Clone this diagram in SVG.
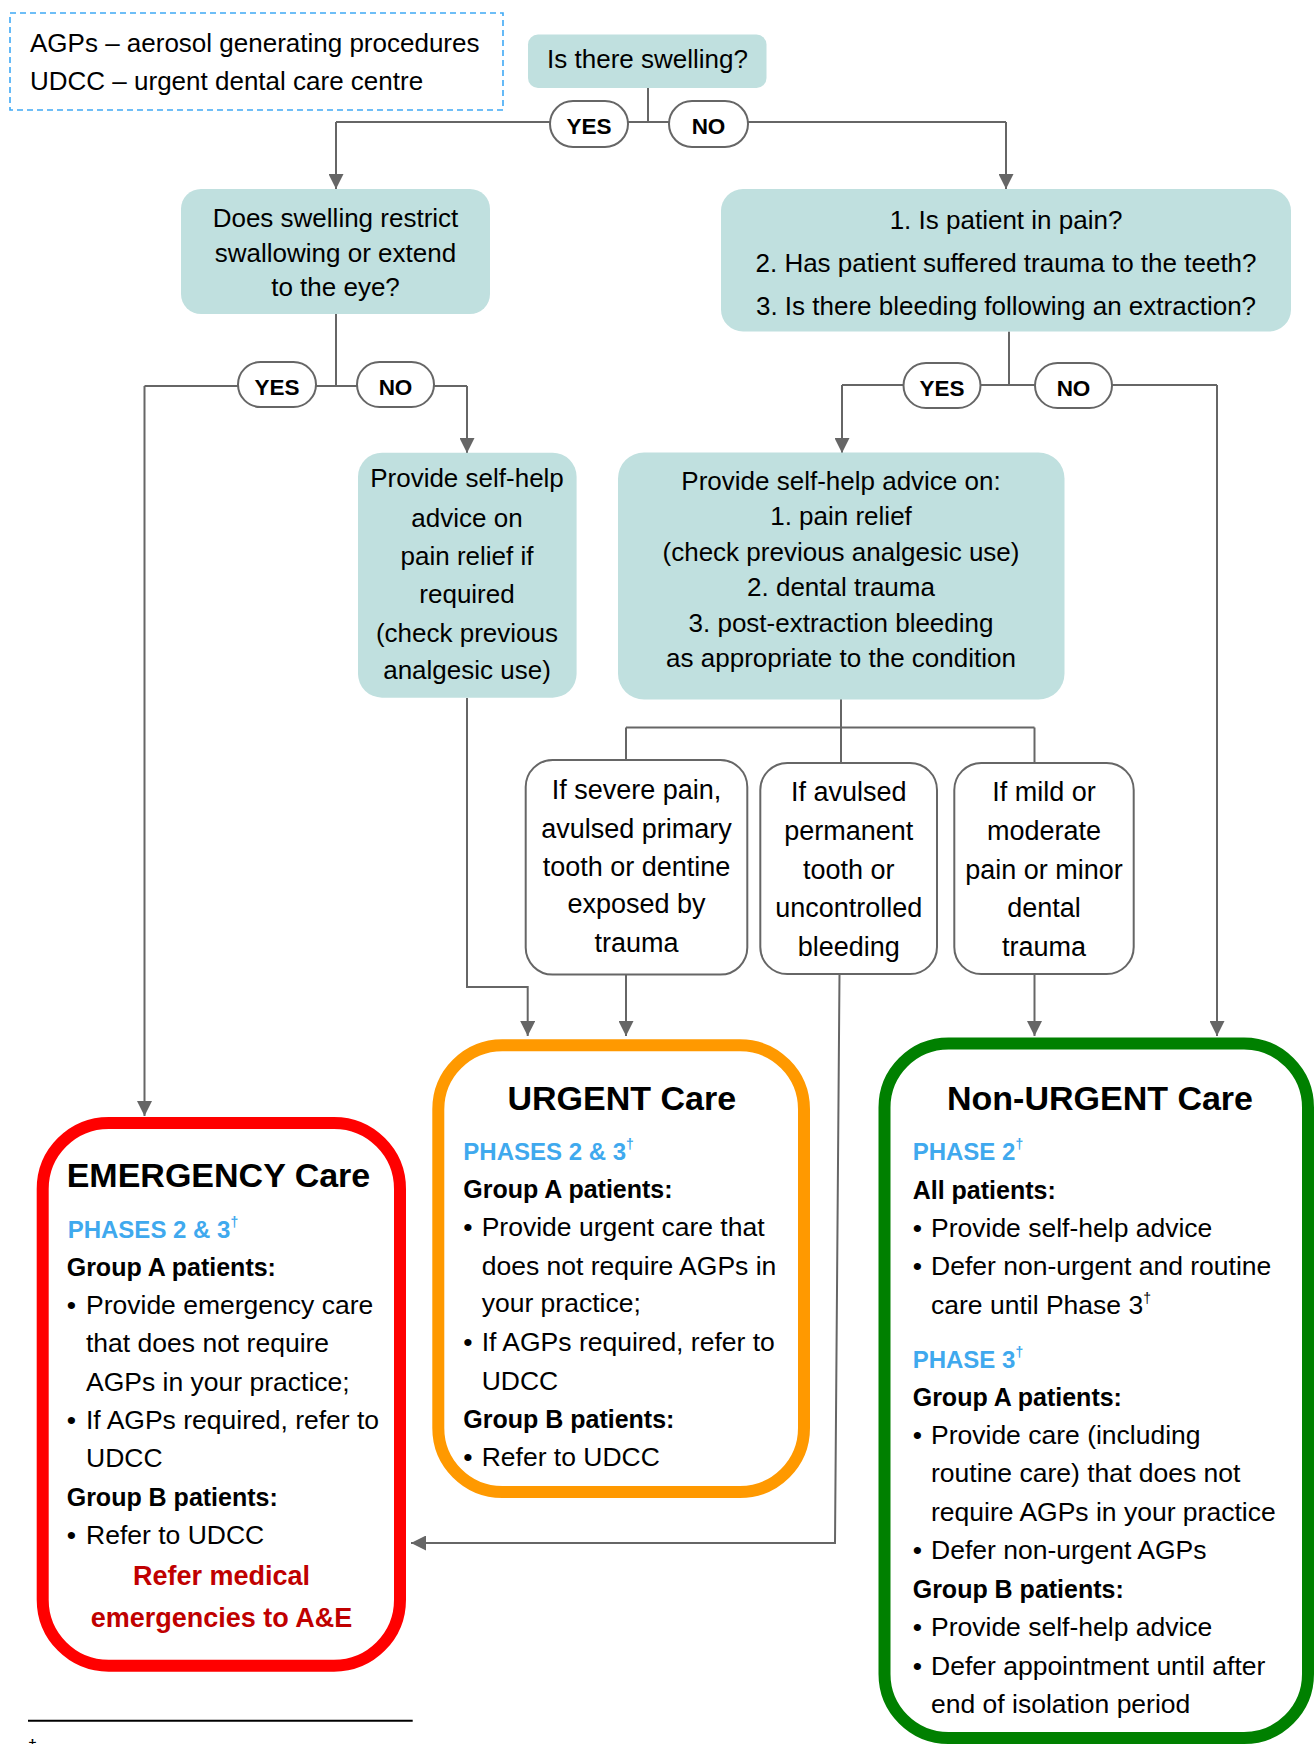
<svg xmlns="http://www.w3.org/2000/svg" width="1314" height="1744" viewBox="0 0 1314 1744">
<defs>
<style>
text{font-family:"Liberation Sans",Arial,sans-serif;fill:#000}
.q{font-size:26px;text-anchor:middle}
.w{font-size:27px;text-anchor:middle}
.c{font-size:26.5px}
.b{font-size:25px;font-weight:bold}
.h{font-size:34px;font-weight:bold}
.ph{font-size:24px;font-weight:bold;fill:#3FA9EE}
.sup{font-size:14px}
.pl{font-size:22.5px;font-weight:bold;text-anchor:middle}
.red{font-size:27px;font-weight:bold;fill:#C00000;text-anchor:middle}
.conn{stroke:#666;stroke-width:2;fill:none}
.arr{marker-end:url(#ah)}
.teal{fill:#C0E0DF}
.wbox{fill:#fff;stroke:#666;stroke-width:2}
.pill{fill:#fff;stroke:#666;stroke-width:2}
</style>
<marker id="ah" markerUnits="userSpaceOnUse" markerWidth="15" markerHeight="15" refX="15" refY="7.5" orient="auto">
<path d="M0,0 L15,7.5 L0,15 z" fill="#666"/>
</marker>
</defs>
<rect width="1314" height="1744" fill="#fff"/>

<g id="legend">
<rect x="10" y="13" width="493" height="97" fill="none" stroke="#3FA9F5" stroke-width="1.6" stroke-dasharray="6 4"/>
<text x="30" y="52" font-size="26">AGPs – aerosol generating procedures</text>
<text x="30" y="90" font-size="26">UDCC – urgent dental care centre</text>
</g>

<g id="connectors">
<path class="conn" d="M648,88 V122"/>
<path class="conn" d="M336,122 H1006"/>
<path class="conn arr" d="M336,122 V189"/>
<path class="conn arr" d="M1006,122 V189"/>
<path class="conn" d="M336,314 V386"/>
<path class="conn" d="M144.5,386 H467"/>
<path class="conn arr" d="M144.5,386 V1116"/>
<path class="conn arr" d="M467,386 V453"/>
<path class="conn" d="M1009,331.5 V385"/>
<path class="conn" d="M842,385 H1217"/>
<path class="conn arr" d="M842,385 V453"/>
<path class="conn arr" d="M1217,385 V1036"/>
<path class="conn" d="M841,699 V727.5"/>
<path class="conn" d="M626,727.5 H1034.5"/>
<path class="conn" d="M626,727.5 V760"/>
<path class="conn" d="M841,727.5 V763"/>
<path class="conn" d="M1034.5,727.5 V763"/>
<path class="conn arr" d="M626,974.6 V1036"/>
<path class="conn arr" d="M467,698 V987 H527.7 V1036"/>
<path class="conn arr" d="M1034.5,974 V1036"/>
<path class="conn arr" d="M839.5,974 L835,1543 H411"/>
</g>

<g id="q-swelling">
<rect class="teal" x="528" y="34.5" width="238.5" height="53.5" rx="10"/>
<text class="q" x="647.5" y="68">Is there swelling?</text>
</g>

<g id="pill-yes-1"><rect class="pill" x="550" y="101" width="78" height="46" rx="23"/><text class="pl" x="589" y="133.5">YES</text></g>
<g id="pill-no-1"><rect class="pill" x="669" y="101" width="79" height="46" rx="23"/><text class="pl" x="708.5" y="133.5">NO</text></g>

<g id="q-restrict">
<rect class="teal" x="181" y="189" width="309" height="125" rx="20"/>
<text class="q" x="335.5" y="226.5">Does swelling restrict</text>
<text class="q" x="335.5" y="261.5">swallowing or extend</text>
<text class="q" x="335.5" y="296">to the eye?</text>
</g>

<g id="q-pain">
<rect class="teal" x="721" y="189" width="570" height="142.5" rx="22"/>
<text class="q" x="1006" y="228.5">1. Is patient in pain?</text>
<text class="q" x="1006" y="271.5">2. Has patient suffered trauma to the teeth?</text>
<text class="q" x="1006" y="315">3. Is there bleeding following an extraction?</text>
</g>

<g id="pill-yes-2"><rect class="pill" x="238" y="362" width="78" height="45" rx="22.5"/><text class="pl" x="277" y="394.5">YES</text></g>
<g id="pill-no-2"><rect class="pill" x="357" y="362" width="77" height="45" rx="22.5"/><text class="pl" x="395.5" y="394.5">NO</text></g>
<g id="pill-yes-3"><rect class="pill" x="903.5" y="363" width="77" height="45" rx="22.5"/><text class="pl" x="942" y="395.5">YES</text></g>
<g id="pill-no-3"><rect class="pill" x="1035" y="363" width="77" height="45" rx="22.5"/><text class="pl" x="1073.5" y="395.5">NO</text></g>

<g id="advice-pain">
<rect class="teal" x="358" y="452.7" width="218.6" height="245" rx="24"/>
<text class="q" x="467" y="487.3">Provide self-help</text>
<text class="q" x="467" y="526.5">advice on</text>
<text class="q" x="467" y="565">pain relief if</text>
<text class="q" x="467" y="602.7">required</text>
<text class="q" x="467" y="641.5">(check previous</text>
<text class="q" x="467" y="679.3">analgesic use)</text>
</g>

<g id="advice-all">
<rect class="teal" x="618" y="452.5" width="446.5" height="247" rx="26"/>
<text class="q" x="841" y="490">Provide self-help advice on:</text>
<text class="q" x="841" y="524.5">1. pain relief</text>
<text class="q" x="841" y="560.8">(check previous analgesic use)</text>
<text class="q" x="841" y="596">2. dental trauma</text>
<text class="q" x="841" y="631.6">3. post-extraction bleeding</text>
<text class="q" x="841" y="666.8">as appropriate to the condition</text>
</g>

<g id="cond-severe">
<rect class="wbox" x="525.7" y="760" width="221.6" height="214.6" rx="27"/>
<text class="w" x="636.5" y="799.3">If severe pain,</text>
<text class="w" x="636.5" y="837.7">avulsed primary</text>
<text class="w" x="636.5" y="876">tooth or dentine</text>
<text class="w" x="636.5" y="913.3">exposed by</text>
<text class="w" x="636.5" y="952.3">trauma</text>
</g>

<g id="cond-avulsed">
<rect class="wbox" x="760.3" y="763" width="176.7" height="211" rx="27"/>
<text class="w" x="848.7" y="800.8">If avulsed</text>
<text class="w" x="848.7" y="840">permanent</text>
<text class="w" x="848.7" y="878.5">tooth or</text>
<text class="w" x="848.7" y="916.7">uncontrolled</text>
<text class="w" x="848.7" y="955.8">bleeding</text>
</g>

<g id="cond-mild">
<rect class="wbox" x="954.3" y="763" width="179.4" height="211" rx="27"/>
<text class="w" x="1044" y="800.8">If mild or</text>
<text class="w" x="1044" y="840">moderate</text>
<text class="w" x="1044" y="878.5">pain or minor</text>
<text class="w" x="1044" y="916.7">dental</text>
<text class="w" x="1044" y="955.8">trauma</text>
</g>

<g id="emergency">
<rect x="42.7" y="1123" width="357.3" height="542.7" rx="66" fill="#fff" stroke="#FF0000" stroke-width="12"/>
<text class="h" x="66.7" y="1187">EMERGENCY Care</text>
<text class="ph" x="67.7" y="1237.6">PHASES 2 &amp; 3<tspan class="sup" dy="-11">†</tspan></text>
<text class="b" x="66.7" y="1276">Group A patients:</text>
<text class="c" y="1314.4"><tspan x="66.7">•</tspan><tspan x="86">Provide emergency care</tspan></text>
<text class="c" x="86" y="1352">that does not require</text>
<text class="c" x="86" y="1390.8">AGPs in your practice;</text>
<text class="c" y="1429"><tspan x="66.7">•</tspan><tspan x="86">If AGPs required, refer to</tspan></text>
<text class="c" x="86" y="1466.5">UDCC</text>
<text class="b" x="66.7" y="1505.7">Group B patients:</text>
<text class="c" y="1543.5"><tspan x="66.7">•</tspan><tspan x="86">Refer to UDCC</tspan></text>
<text class="red" x="221.5" y="1584.6">Refer medical</text>
<text class="red" x="221.5" y="1626.5">emergencies to A&amp;E</text>
</g>

<g id="urgent">
<rect x="438.3" y="1045.3" width="365.7" height="446.7" rx="64" fill="#fff" stroke="#FF9900" stroke-width="12"/>
<text class="h" x="621.8" y="1110" text-anchor="middle">URGENT Care</text>
<text class="ph" x="463.3" y="1159.8">PHASES 2 &amp; 3<tspan class="sup" dy="-11">†</tspan></text>
<text class="b" x="463.3" y="1197.8">Group A patients:</text>
<text class="c" y="1235.7"><tspan x="463.3">•</tspan><tspan x="481.7">Provide urgent care that</tspan></text>
<text class="c" x="481.7" y="1275">does not require AGPs in</text>
<text class="c" x="481.7" y="1311.6">your practice;</text>
<text class="c" y="1350.9"><tspan x="463.3">•</tspan><tspan x="481.7">If AGPs required, refer to</tspan></text>
<text class="c" x="481.7" y="1389.7">UDCC</text>
<text class="b" x="463.3" y="1427.7">Group B patients:</text>
<text class="c" y="1466"><tspan x="463.3">•</tspan><tspan x="481.7">Refer to UDCC</tspan></text>
</g>

<g id="non-urgent">
<rect x="884.5" y="1043.5" width="423.5" height="694.5" rx="64" fill="#fff" stroke="#008000" stroke-width="12"/>
<text class="h" x="1100" y="1110" text-anchor="middle">Non-URGENT Care</text>
<text class="ph" x="912.7" y="1160">PHASE 2<tspan class="sup" dy="-11">†</tspan></text>
<text class="b" x="912.7" y="1199">All patients:</text>
<text class="c" y="1237"><tspan x="912.7">•</tspan><tspan x="931">Provide self-help advice</tspan></text>
<text class="c" y="1275.3"><tspan x="912.7">•</tspan><tspan x="931">Defer non-urgent and routine</tspan></text>
<text class="c" x="931" y="1313.5">care until Phase 3<tspan class="sup" dy="-11">†</tspan></text>
<text class="ph" x="912.7" y="1367.6">PHASE 3<tspan class="sup" dy="-11">†</tspan></text>
<text class="b" x="912.7" y="1406.4">Group A patients:</text>
<text class="c" y="1444"><tspan x="912.7">•</tspan><tspan x="931">Provide care (including</tspan></text>
<text class="c" x="931" y="1482">routine care) that does not</text>
<text class="c" x="931" y="1521">require AGPs in your practice</text>
<text class="c" y="1559"><tspan x="912.7">•</tspan><tspan x="931">Defer non-urgent AGPs</tspan></text>
<text class="b" x="912.7" y="1597.5">Group B patients:</text>
<text class="c" y="1636"><tspan x="912.7">•</tspan><tspan x="931">Provide self-help advice</tspan></text>
<text class="c" y="1674.7"><tspan x="912.7">•</tspan><tspan x="931">Defer appointment until after</tspan></text>
<text class="c" x="931" y="1712.5">end of isolation period</text>
</g>

<g id="footnote">
<line x1="28" y1="1720.7" x2="412.7" y2="1720.7" stroke="#000" stroke-width="2"/>
<text x="28" y="1751" font-size="16">†</text>
</g>
</svg>
